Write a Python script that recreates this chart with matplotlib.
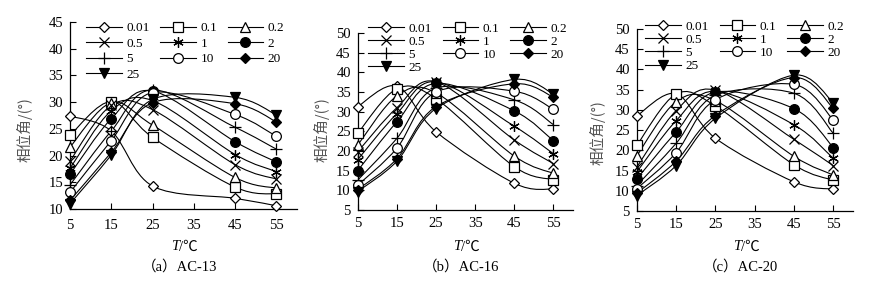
import numpy as np
import matplotlib
matplotlib.use('Agg')
import matplotlib.pyplot as plt
from matplotlib.path import Path
from matplotlib.patches import PathPatch
from matplotlib.lines import Line2D

plt.rcParams['font.family'] = ['Liberation Serif', 'Noto Sans CJK SC', 'DejaVu Sans']

temps = [5, 15, 25, 45, 55]
freqs = ['0.01', '0.1', '0.2', '0.5', '1', '2', '5', '10', '20', '25']

# phase angle (deg), one row per frequency, columns = temps
ac13 = [[27.4, 24.6, 14.3, 12.0, 10.6],
        [23.8, 30.1, 23.4, 14.1, 12.8],
        [21.6, 29.9, 25.7, 15.9, 13.9],
        [19.0, 29.4, 28.6, 18.3, 15.6],
        [17.6, 28.4, 30.3, 20.2, 17.0],
        [16.5, 26.9, 32.1, 22.6, 18.8],
        [14.5, 24.6, 32.3, 25.3, 21.2],
        [13.1, 22.8, 31.8, 27.7, 23.6],
        [11.6, 20.6, 29.9, 29.7, 26.3],
        [11.0, 20.1, 30.5, 30.9, 27.6]]

ac16 = [[31.3, 36.5, 24.9, 11.8, 10.3],
        [24.5, 35.8, 33.3, 16.0, 12.7],
        [21.5, 34.0, 34.8, 18.7, 14.3],
        [19.8, 31.0, 37.6, 22.8, 16.8],
        [17.8, 29.5, 37.6, 26.3, 19.3],
        [15.0, 27.4, 37.2, 30.2, 22.6],
        [12.6, 23.2, 36.0, 33.0, 26.7],
        [11.3, 20.7, 35.0, 35.2, 30.6],
        [10.2, 18.0, 31.3, 37.1, 33.7],
        [9.7, 17.4, 30.8, 38.2, 34.5]]

ac20 = [[28.5, 34.0, 23.0, 12.2, 10.4],
        [21.2, 33.9, 31.0, 16.4, 12.6],
        [18.6, 32.0, 32.3, 18.5, 13.9],
        [15.8, 29.8, 34.9, 22.7, 16.2],
        [14.6, 27.3, 34.6, 26.3, 18.0],
        [12.9, 24.5, 34.4, 30.3, 20.7],
        [11.3, 21.7, 33.6, 34.1, 24.2],
        [10.5, 19.4, 32.5, 36.3, 27.5],
        [9.4, 17.3, 28.6, 38.0, 30.4],
        [8.8, 16.2, 27.9, 38.6, 31.8]]

# marker, size, face colour for each frequency
styles = [('D', 5.5, 'white'), ('s', 6.5, 'white'), ('^', 7.5, 'white'),
          ('x', 7, 'black'), ((6, 2, 0), 7.5, 'black'), ('o', 7, 'black'),
          ('+', 9, 'black'), ('o', 7, 'white'), ('D', 5, 'black'),
          ('v', 7, 'black')]


def smooth_path(x, y):
    # excel-like smoothed line: cubic bezier through the points
    pts = np.column_stack([x, y]).astype(float)
    n = len(pts)
    verts = [pts[0]]
    codes = [Path.MOVETO]
    for i in range(n - 1):
        p0 = pts[max(i - 1, 0)]
        p1 = pts[i]
        p2 = pts[i + 1]
        p3 = pts[min(i + 2, n - 1)]
        verts += [p1 + (p2 - p0) / 6, p2 - (p3 - p1) / 6, p2]
        codes += [Path.CURVE4] * 3
    return Path(verts, codes)


fig = plt.figure(figsize=(8.79, 2.89), dpi=100)
W, H = 879.0, 289.0

panels = [
    (ac13, '(a)', 'AC-13', [70, 22, 297, 209], (10, 45), 0.07, 1.0, 0.25, 7),
    (ac16, '(b)', 'AC-16', [357.7, 33, 573, 210], (5, 50), 0.05, 1.06, 0.06, 5),
    (ac20, '(c)', 'AC-20', [636.7, 29, 853, 211], (5, 50), 0.04, 1.045, 0.06, 5),
]
ylab_x = [25, 322, 598]
ylab_y = [130, 130, 133]

for k, (data, tag, name, box, ylim, legx, legy, lspace, xpad) in enumerate(panels):
    x0, y0, x1, y1 = box
    ax = fig.add_axes([x0 / W, 1 - y1 / H, (x1 - x0) / W, (y1 - y0) / H])
    for vals, (m, ms, fc) in zip(data, styles):
        ax.add_patch(PathPatch(smooth_path(temps, vals), fill=False,
                               edgecolor='black', lw=0.8, zorder=2))
        ax.plot(temps, vals, linestyle='none', marker=m, ms=ms,
                mfc=fc, mec='black', mew=0.9, zorder=3, clip_on=False)
    ax.set_xlim(5, 60)
    ax.set_ylim(*ylim)
    ax.set_xticks(temps[:3] + [35] + temps[3:])
    ax.set_yticks(np.arange(ylim[0], ylim[1] + 1, 5))
    for s in ['top', 'right']:
        ax.spines[s].set_visible(False)
    for s in ['left', 'bottom']:
        ax.spines[s].set_linewidth(0.9)
    ax.tick_params(direction='in', length=4.5, width=0.8, labelsize=10.5)
    ax.tick_params(axis='x', pad=xpad)
    ax.tick_params(axis='y', pad=5)

    handles = [Line2D([], [], color='black', lw=0.8, marker=m, ms=ms,
                      mfc=fc, mec='black', mew=0.9)
               for (m, ms, fc) in styles]
    order = [0, 3, 6, 9, 1, 4, 7, 2, 5, 8]
    ax.legend([handles[i] for i in order], [freqs[i] for i in order],
              ncol=3, loc='upper left', bbox_to_anchor=(legx, legy),
              frameon=False, fontsize=9.5, numpoints=1,
              handlelength=2.7, handletextpad=0.35, columnspacing=0.8,
              labelspacing=lspace, borderpad=0, borderaxespad=0)

    cx = (x0 + x1) / 2
    fig.text((cx - 4) / W, 1 - 247 / H, 'T', style='italic', fontsize=10.5,
             ha='right', va='center')
    fig.text((cx - 4) / W, 1 - 247 / H, '/℃', fontsize=10.5,
             ha='left', va='center', family=['Liberation Serif', 'Noto Sans CJK SC'])
    fig.text((cx - 4) / W, 1 - 267 / H, '（' + tag[1] + '）' + name,
             fontsize=10.5, ha='center', va='center',
             family=['Liberation Serif', 'Noto Sans CJK SC'])
    fig.text(ylab_x[k] / W, 1 - ylab_y[k] / H, '相位角/(°)', rotation=90,
             fontsize=10.5, color='#555555', ha='center', va='center',
             family=['Noto Sans CJK SC', 'DejaVu Sans'])

fig.savefig('out.png', dpi=100)
